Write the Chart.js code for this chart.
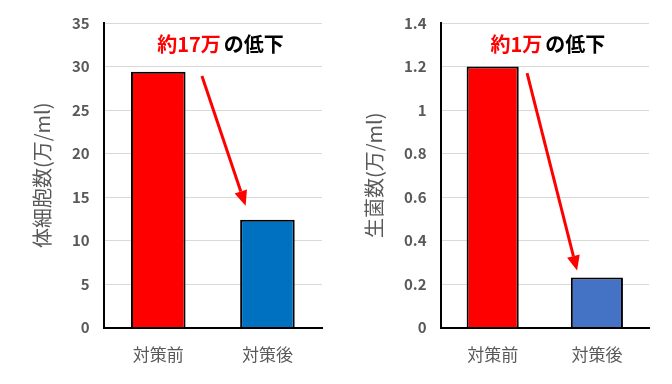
<!DOCTYPE html>
<html>
<head>
<meta charset="utf-8">
<script src="https://cdn.jsdelivr.net/npm/chart.js@4"></script>
<style>
  html, body { margin: 0; padding: 0; background: #fff; }
  .wrap { display: flex; width: 672px; height: 384px; }
  .box { position: relative; width: 336px; height: 384px; }
</style>
</head>
<body>
<div class="wrap">
  <div class="box"><canvas id="cellChart"></canvas></div>
  <div class="box"><canvas id="bactChart"></canvas></div>
</div>
<script>
// categories
const categories = ['対策前', '対策後'];

// left chart: somatic cell count
const cellValues = [29.4, 12.4];
const cellColors = ['#ff0000', '#0070c0'];
const cellTitle = '体細胞数(万/ml)';
const cellNote = ['約17万', 'の低下'];

// right chart: bacteria count
const bactValues = [1.2, 0.23];
const bactColors = ['#ff0000', '#4472c4'];
const bactTitle = '生菌数(万/ml)';
const bactNote = ['約1万', 'の低下'];

const FONT = '"Noto Sans CJK JP", "Noto Sans", sans-serif';
const GRAY = '#595959';

// text + arrow drawn on top of the bars
const notePlugin = {
    id: 'note',
    afterDatasetsDraw(chart, args, opts) {
        const ctx = chart.ctx;
        const xs = chart.scales.x, ys = chart.scales.y;
        // label
        ctx.save();
        ctx.font = 'bold 20px ' + FONT;
        ctx.textBaseline = 'middle';
        const w1 = ctx.measureText(opts.text[0]).width;
        const w2 = ctx.measureText(opts.text[1]).width;
        const gap = 3;
        let x = xs.getPixelForValue(opts.textAt[0]) - (w1 + gap + w2) / 2;
        const y = ys.getPixelForValue(opts.textAt[1]);
        ctx.fillStyle = '#ff0000';
        ctx.fillText(opts.text[0], x, y);
        ctx.fillStyle = '#000';
        ctx.fillText(opts.text[1], x + w1 + gap, y);
        // arrow
        const x0 = xs.getPixelForValue(opts.from[0]), y0 = ys.getPixelForValue(opts.from[1]);
        const x1 = xs.getPixelForValue(opts.to[0]), y1 = ys.getPixelForValue(opts.to[1]);
        const ang = Math.atan2(y1 - y0, x1 - x0);
        const head = 15, half = 6.5;
        ctx.strokeStyle = '#ff0000';
        ctx.fillStyle = '#ff0000';
        ctx.lineWidth = 3;
        ctx.beginPath();
        ctx.moveTo(x0, y0);
        ctx.lineTo(x1 - Math.cos(ang) * head, y1 - Math.sin(ang) * head);
        ctx.stroke();
        ctx.beginPath();
        ctx.moveTo(x1, y1);
        ctx.lineTo(x1 - Math.cos(ang) * head - Math.sin(ang) * half, y1 - Math.sin(ang) * head + Math.cos(ang) * half);
        ctx.lineTo(x1 - Math.cos(ang) * head + Math.sin(ang) * half, y1 - Math.sin(ang) * head - Math.cos(ang) * half);
        ctx.closePath();
        ctx.fill();
        ctx.restore();
    }
};

function makeChart(id, values, colors, yMax, yStep, title, note, pad) {
    return new Chart(document.getElementById(id), {
        type: 'bar',
        data: {
            labels: categories,
            datasets: [{
                data: values,
                backgroundColor: colors,
                borderColor: '#000',
                borderWidth: 2,
                borderSkipped: 'bottom',
                categoryPercentage: 1,
                barPercentage: 0.5
            }]
        },
        options: {
            responsive: true,
            maintainAspectRatio: false,
            animation: false,
            layout: { padding: pad },
            plugins: {
                legend: { display: false },
                tooltip: { enabled: false },
                note: note
            },
            scales: {
                x: {
                    grid: { display: false, drawTicks: false },
                    border: { color: '#000', width: 2 },
                    ticks: { color: GRAY, font: { family: FONT, size: 17 }, padding: 17 }
                },
                y: {
                    min: 0,
                    max: yMax,
                    grid: { color: '#d9d9d9', lineWidth: 1, drawTicks: false },
                    border: { color: '#000', width: 2 },
                    ticks: {
                        stepSize: yStep,
                        color: GRAY,
                        padding: 14,
                        font: { family: FONT, size: 15, weight: 'bold' },
                        callback: v => String(+v.toFixed(2))
                    },
                    title: {
                        display: true,
                        text: title,
                        color: GRAY,
                        font: { family: FONT, size: 20 },
                        padding: { top: 0, bottom: 4 }
                    }
                }
            }
        },
        plugins: [notePlugin]
    });
}

makeChart('cellChart', cellValues, cellColors, 35, 5, cellTitle,
    { text: cellNote, textAt: [0.57, 32.5], from: [0.4, 28.9], to: [0.8, 14.0] },
    { top: 12, right: 14, bottom: 2, left: 30 });

makeChart('bactChart', bactValues, bactColors, 1.4, 0.2, bactTitle,
    { text: bactNote, textAt: [0.53, 1.30], from: [0.33, 1.17], to: [0.81, 0.262] },
    { top: 12, right: 23, bottom: 2, left: 26 });
</script>
</body>
</html>
